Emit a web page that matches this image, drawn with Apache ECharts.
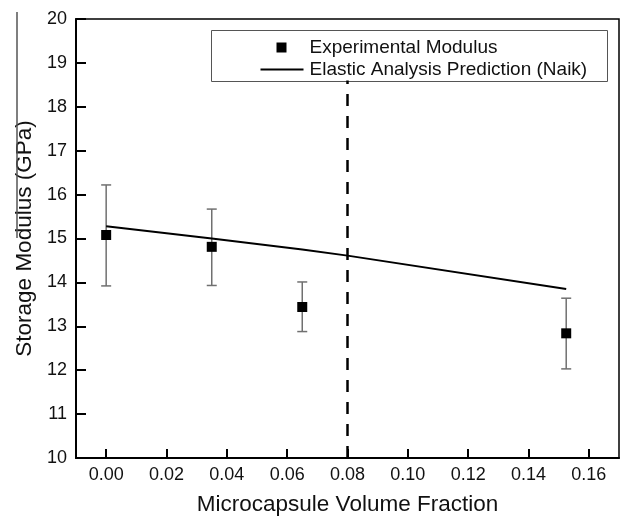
<!DOCTYPE html>
<html>
<head>
<meta charset="utf-8">
<script src="https://cdn.jsdelivr.net/npm/echarts@6/dist/echarts.min.js"></script>
<style>
html,body{margin:0;padding:0;background:#fff;}
#chart{width:624px;height:521px;}
</style>
</head>
<body>
<div id="chart"></div>
<script>
// ---- data ----
const fractions = [0.0, 0.035, 0.065, 0.1525];
const modulus = [15.08, 14.81, 13.44, 12.84];
const errLow = [13.92, 13.93, 12.88, 12.03];
const errHigh = [16.22, 15.67, 14.01, 13.64];
const predX = [0.0, 0.035, 0.065, 0.08, 0.1525];
const predY = [15.28, 15.0, 14.75, 14.61, 13.85];
const thresholdX = 0.08;
const thresholdY = [10, 18.6];
const xTicks = [0.00, 0.02, 0.04, 0.06, 0.08, 0.10, 0.12, 0.14, 0.16];
const seriesNames = ['Experimental Modulus', 'Elastic Analysis Prediction (Naik)'];
const xTitle = 'Microcapsule Volume Fraction';
const yTitle = 'Storage Modulus (GPa)';

const FONT = 'Liberation Sans, Arial, sans-serif';
const chart = echarts.init(document.getElementById('chart'), null, {renderer: 'canvas'});

const expData = fractions.map((x, i) => [x, modulus[i]]);
const errData = fractions.map((x, i) => [x, errLow[i], errHigh[i]]);
const predData = predX.map((x, i) => [x, predY[i]]);
const threshData = thresholdY.map(y => [thresholdX, y]);

// legend box drawn as graphic (frame + swatches + labels)
const legendGraphic = {
  type: 'group', left: 211, top: 30, z: 100,
  children: [
    {type: 'rect', shape: {x: 0, y: 0, width: 396, height: 51},
      style: {fill: '#fff', stroke: '#555', lineWidth: 1}},
    {type: 'rect', shape: {x: 65, y: 12, width: 10, height: 10}, style: {fill: '#000'}},
    {type: 'text', x: 98, y: 17, style: {text: seriesNames[0], font: '19px ' + FONT,
      fill: '#111', verticalAlign: 'middle', align: 'left'}},
    {type: 'line', shape: {x1: 49, y1: 39, x2: 92, y2: 39}, style: {stroke: '#000', lineWidth: 2}},
    {type: 'text', x: 98, y: 39, style: {text: seriesNames[1], font: '19px ' + FONT,
      fill: '#111', verticalAlign: 'middle', align: 'left'}}
  ]
};

chart.setOption({
  animation: false,
  backgroundColor: '#fff',
  textStyle: {fontFamily: FONT},
  grid: {left: 76, right: 5, top: 19, bottom: 58, show: true, borderColor: '#000', borderWidth: 1.5, containLabel: false},
  xAxis: {
    type: 'value', min: -0.01, max: 0.17,
    name: xTitle, nameLocation: 'middle', nameGap: 35,
    nameTextStyle: {fontFamily: FONT, fontSize: 22.5, color: '#111'},
    axisLine: {show: true, onZero: false, lineStyle: {color: '#000', width: 2}},
    axisTick: {show: true, inside: true, length: 9, customValues: xTicks, lineStyle: {color: '#000', width: 2}},
    axisLabel: {customValues: xTicks, margin: 8, fontFamily: FONT, fontSize: 18, color: '#111',
      formatter: v => v.toFixed(2)},
    splitLine: {show: false}
  },
  yAxis: {
    type: 'value', min: 10, max: 20, interval: 1,
    name: yTitle, nameLocation: 'middle', nameGap: 40,
    nameTextStyle: {fontFamily: FONT, fontSize: 22.5, color: '#111'},
    axisLine: {show: true, onZero: false, lineStyle: {color: '#000', width: 2}},
    axisTick: {show: true, inside: true, length: 10, lineStyle: {color: '#000', width: 2}},
    axisLabel: {margin: 9, fontFamily: FONT, fontSize: 18, color: '#111'},
    splitLine: {show: false}
  },
  graphic: [
    {type: 'line', silent: true, z: 50,
      shape: {x1: 17, y1: 12, x2: 17, y2: 238},
      style: {stroke: '#555', lineWidth: 1.5}},
    legendGraphic
  ],
  series: [
    {
      name: 'threshold', type: 'line', data: threshData, symbol: 'none', silent: true,
      lineStyle: {color: '#000', width: 2.5, type: [12, 10]}, z: 1
    },
    {
      name: 'errors', type: 'custom', data: errData, silent: true, z: 2,
      renderItem: function (params, api) {
        const x = api.value(0);
        const lo = api.coord([x, api.value(1)]);
        const hi = api.coord([x, api.value(2)]);
        const cw = 5;
        const st = {stroke: '#707070', lineWidth: 1.5, fill: null};
        return {type: 'group', children: [
          {type: 'line', shape: {x1: lo[0], y1: lo[1], x2: hi[0], y2: hi[1]}, style: st},
          {type: 'line', shape: {x1: lo[0] - cw, y1: lo[1], x2: lo[0] + cw, y2: lo[1]}, style: st},
          {type: 'line', shape: {x1: hi[0] - cw, y1: hi[1], x2: hi[0] + cw, y2: hi[1]}, style: st}
        ]};
      }
    },
    {
      name: seriesNames[1], type: 'line', data: predData, symbol: 'none', z: 3,
      lineStyle: {color: '#000', width: 2}, itemStyle: {color: '#000'}
    },
    {
      name: seriesNames[0], type: 'scatter', data: expData, symbol: 'rect', symbolSize: 10,
      z: 4, itemStyle: {color: '#000', opacity: 1}
    }
  ]
});
</script>
</body>
</html>
